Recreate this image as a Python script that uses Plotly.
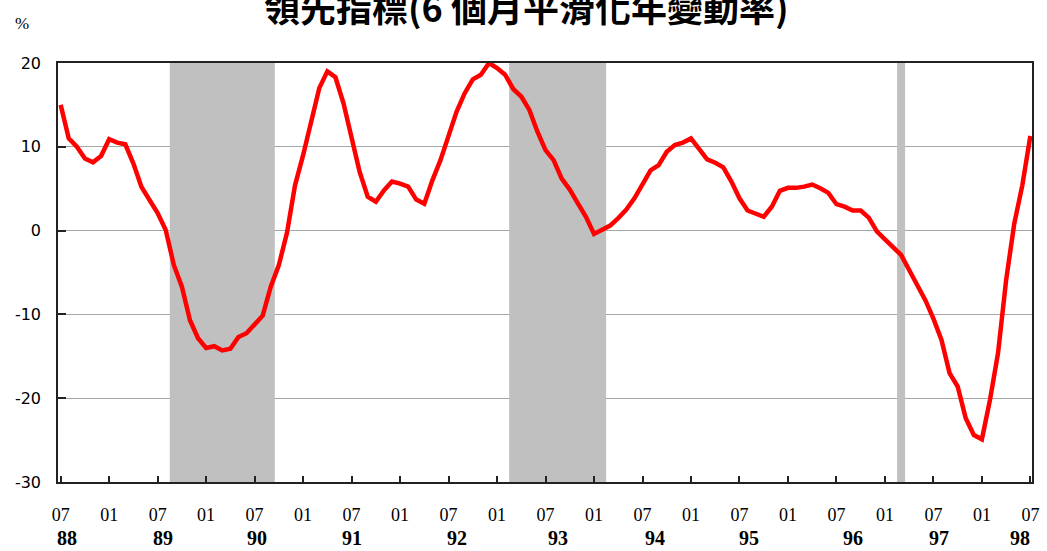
import plotly.graph_objects as go

# Monthly values, Jul 1988 .. Jul 1998 (index 0 = 1988/07)
values = [
    15.0, 11.0, 10.0, 8.6, 8.15, 8.9, 10.9, 10.5, 10.3, 8.0,
    5.2, 3.7, 2.1, 0.07, -4.1, -6.7, -10.7, -12.85, -14.0, -13.8,
    -14.3, -14.1, -12.7, -12.25, -11.1, -10.15, -6.7, -4.1, -0.3, 5.4,
    9.0, 13.0, 17.0, 19.0, 18.3, 15.2, 11.2, 7.0, 4.05, 3.45,
    4.8, 5.85, 5.6, 5.25, 3.7, 3.2, 6.0, 8.4, 11.3, 14.2,
    16.4, 18.05, 18.6, 20.0, 19.4, 18.6, 16.9, 16.0, 14.4, 11.8,
    9.6, 8.4, 6.2, 4.9, 3.25, 1.65, -0.4, 0.07, 0.6, 1.5,
    2.5, 3.85, 5.6, 7.2, 7.8, 9.4, 10.2, 10.5, 11.0, 9.7,
    8.5, 8.1, 7.55, 5.85, 3.85, 2.4, 2.05, 1.65, 2.85, 4.75,
    5.1, 5.1, 5.25, 5.5, 5.05, 4.5, 3.15, 2.85, 2.4, 2.4,
    1.55, -0.1, -1.05, -1.9, -2.9, -4.7, -6.5, -8.3, -10.5, -13.05,
    -17.0, -18.6, -22.4, -24.4, -24.9, -20.2, -14.6, -5.9, 0.8, 5.4,
    11.3,
]
months = list(range(len(values)))

# Shaded periods: (first month index, last month index)
shaded = [(14, 26), (56, 67), (104, 104)]

# Axis ticks
tick_months = list(range(0, 121, 6))
tick_text = ["07" if i % 2 == 0 else "01" for i in range(len(tick_months))]
year_labels = ["88", "89", "90", "91", "92", "93", "94", "95", "96", "97", "98"]
year_pos = [0.8, 12.7, 24.3, 36.0, 49.0, 61.6, 73.5, 85.2, 98.0, 108.7, 118.7]

y_ticks = [20, 10, 0, -10, -20, -30]
y_text = ["20", "10", "0", "-10", "-20", "-30"]

fig = go.Figure()
fig.add_trace(go.Scatter(
    x=months, y=values, mode="lines",
    line=dict(color="#FF0000", width=4.5),
    hoverinfo="skip", showlegend=False,
))

for a, b in shaded:
    fig.add_shape(type="rect", xref="x", yref="y",
                  x0=a - 0.5, x1=b + 0.5, y0=-30, y1=20,
                  fillcolor="#C0C0C0", line=dict(width=0), layer="between")

for lab, pos in zip(year_labels, year_pos):
    fig.add_annotation(x=pos, xref="x", y=-0.133, yref="paper",
                       text="<b>" + lab + "</b>", showarrow=False,
                       font=dict(family="Liberation Serif", size=20, color="black"),
                       xanchor="center", yanchor="middle")

fig.add_annotation(x=-0.037, xref="paper", y=1.095, yref="paper", text="%",
                   showarrow=False,
                   font=dict(family="Liberation Serif", size=17, color="black"),
                   xanchor="center", yanchor="middle")

fig.add_annotation(x=0.481, xref="paper", y=1.07, yref="paper",
                   text="<b>領先指標(6 個月平滑化年變動率)</b>", showarrow=False,
                   font=dict(family="Noto Sans CJK TC", size=36, color="black"),
                   xanchor="center", yanchor="bottom")

fig.update_layout(
    width=1047, height=551,
    margin=dict(l=58, r=15, t=63, b=69, autoexpand=False),
    paper_bgcolor="white", plot_bgcolor="white",
    xaxis=dict(
        range=[-0.33, 120.2], tickmode="array", tickvals=tick_months, ticktext=tick_text,
        ticks="inside", ticklen=6, tickcolor="#222", tickwidth=1.5,
        showgrid=False, zeroline=False, automargin=False,
        showline=True, linecolor="#222", linewidth=1.5, mirror=True,
        tickfont=dict(family="Liberation Serif", size=18, color="black"),
        ticklabelstandoff=16,
    ),
    yaxis=dict(
        range=[-30, 20], tickmode="array", tickvals=y_ticks, ticktext=y_text,
        ticks="inside", ticklen=8, tickcolor="#222", tickwidth=1.5,
        showgrid=True, gridcolor="#A6A6A6", gridwidth=1,
        zeroline=False, automargin=False,
        showline=True, linecolor="#222", linewidth=1.5, mirror=True,
        tickfont=dict(family="DejaVu Sans", size=16, color="black"),
        ticklabelstandoff=12,
    ),
)

fig.write_html("out.html", config={"displayModeBar": False},
               post_script="document.body.style.margin='0';document.body.style.padding='0';")
